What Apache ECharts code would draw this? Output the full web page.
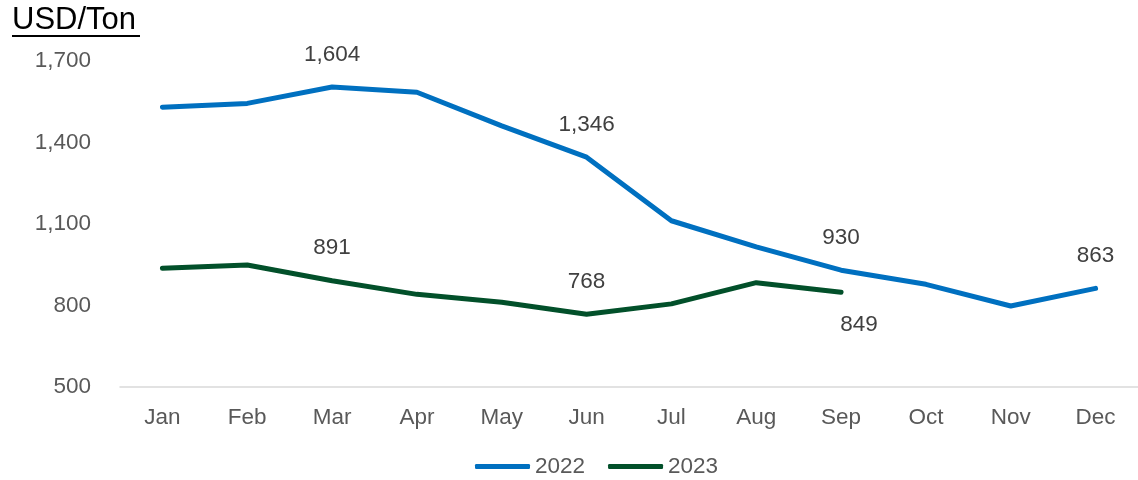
<!DOCTYPE html>
<html>
<head>
<meta charset="utf-8">
<script src="https://cdn.jsdelivr.net/npm/echarts@6/dist/echarts.min.js"></script>
<style>
  html, body { margin: 0; padding: 0; background: #fff; }
  #chart { width: 1138px; height: 480px; }
</style>
</head>
<body>
<div id="chart"></div>
<script>
// Monthly price, USD per ton
const months = ['Jan', 'Feb', 'Mar', 'Apr', 'May', 'Jun', 'Jul', 'Aug', 'Sep', 'Oct', 'Nov', 'Dec'];
const price2022 = [1530, 1544, 1604, 1585, 1461, 1346, 1112, 1016, 930, 878, 798, 863];
const price2023 = [937, 949, 891, 841, 812, 768, 806, 884, 849];
const yTicks = [500, 800, 1100, 1400, 1700];

// Months whose values are printed next to the line
const labeled2022 = { 2: 'top', 5: 'top', 8: 'top', 11: 'top' };
const labeled2023 = { 2: 'top', 5: 'top', 8: 'bottom' };

const fontFamily = 'Arial, "Liberation Sans", sans-serif';
const labelFont = { fontFamily: fontFamily, fontSize: 22.5 };

function withLabels(values, labeled) {
  return values.map((v, i) => {
    const pos = labeled[i];
    if (!pos) return { value: v, label: { show: false } };
    return {
      value: v,
      label: {
        show: true,
        position: pos,
        distance: 20,
        offset: pos === 'bottom' ? [18, 0] : [0, 0],
        color: '#404040',
        ...labelFont,
        formatter: p => p.value.toLocaleString('en-US')
      }
    };
  });
}

const chart = echarts.init(document.getElementById('chart'));
chart.setOption({
  animation: false,
  backgroundColor: '#ffffff',
  graphic: [
    {
      type: 'text',
      left: 12,
      top: 5,
      style: { text: 'USD/Ton', fill: '#000000', font: '31px ' + fontFamily }
    },
    {
      type: 'rect',
      shape: { x: 12, y: 35, width: 128, height: 2 },
      style: { fill: '#000000' }
    }
  ],
  grid: { left: 120, top: 61, width: 1022, bottom: 93, containLabel: false },
  legend: {
    left: 470,
    top: 450,
    itemWidth: 55,
    itemHeight: 5,
    itemGap: 23,
    icon: 'roundRect',
    textStyle: { color: '#595959', ...labelFont },
    data: ['2022', '2023']
  },
  xAxis: {
    type: 'category',
    data: months,
    boundaryGap: true,
    axisLine: { show: true, lineStyle: { color: '#d9d9d9', width: 1.5 } },
    axisTick: { show: false },
    axisLabel: { color: '#595959', margin: 19, ...labelFont }
  },
  yAxis: {
    type: 'value',
    min: yTicks[0],
    max: yTicks[yTicks.length - 1],
    interval: yTicks[1] - yTicks[0],
    axisLine: { show: false },
    axisTick: { show: false },
    splitLine: { show: false },
    axisLabel: {
      color: '#595959',
      margin: 29,
      ...labelFont,
      formatter: v => v.toLocaleString('en-US')
    }
  },
  series: [
    {
      name: '2022',
      type: 'line',
      data: withLabels(price2022, labeled2022),
      symbol: 'circle',
      symbolSize: 2,
      showSymbol: true,
      itemStyle: { color: '#0070C0' },
      lineStyle: { color: '#0070C0', width: 5, cap: 'round', join: 'round' }
    },
    {
      name: '2023',
      type: 'line',
      data: withLabels(price2023, labeled2023),
      symbol: 'circle',
      symbolSize: 2,
      showSymbol: true,
      itemStyle: { color: '#02502A' },
      lineStyle: { color: '#02502A', width: 5, cap: 'round', join: 'round' }
    }
  ]
});
</script>
</body>
</html>
